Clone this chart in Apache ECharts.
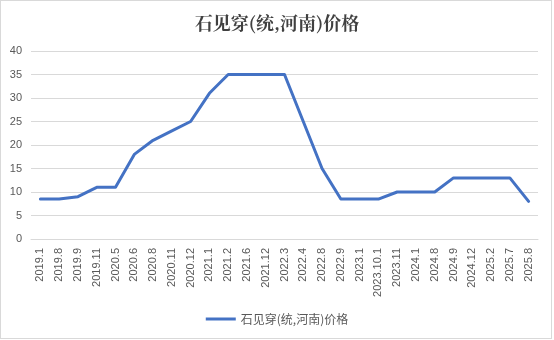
<!DOCTYPE html>
<html>
<head>
<meta charset="utf-8">
<script src="https://cdn.jsdelivr.net/npm/echarts@6/dist/echarts.min.js"></script>
<style>
  html, body { margin: 0; padding: 0; background: #fff; }
  #frame { position: absolute; left: 0; top: 0; width: 550px; height: 337px; border: 1px solid #d9d9d9; }
  #chart { position: absolute; left: 0; top: 0; width: 554px; height: 340px; }
</style>
</head>
<body>
<div id="frame"></div>
<div id="chart"></div>
<script>
// 石见穿(统,河南) price by month
const titleText = '石见穿(统,河南)价格';
const seriesName = '石见穿(统,河南)价格';
const categories = [
  '2019.1', '2019.8', '2019.9', '2019.11', '2020.5', '2020.6', '2020.8',
  '2020.11', '2020.12', '2021.1', '2021.2', '2021.6', '2021.12', '2022.3',
  '2022.4', '2022.8', '2022.9', '2023.1', '2023.10.1', '2023.11', '2024.1',
  '2024.8', '2024.9', '2024.12', '2025.2', '2025.7', '2025.8'
];
const prices = [
  8.5, 8.5, 9, 11, 11, 18, 21,
  23, 25, 31, 35, 35, 35, 35,
  25, 15, 8.5, 8.5, 8.5, 10, 10,
  10, 13, 13, 13, 13, 8
];
const yTicks = { min: 0, max: 40, interval: 5 };

const chart = echarts.init(document.getElementById('chart'), null, { renderer: 'canvas' });
chart.setOption({
  backgroundColor: 'transparent',
  animation: false,
  title: {
    text: titleText,
    left: 'center',
    top: 9,
    textStyle: {
      fontFamily: '"Noto Serif CJK SC", "Noto Sans CJK SC", serif',
      fontSize: 18,
      fontWeight: 'bold',
      color: '#404040'
    }
  },
  grid: { left: 31, right: 16, top: 51, bottom: 101, containLabel: false },
  legend: {
    bottom: 10,
    left: 'center',
    itemWidth: 30,
    itemHeight: 3,
    itemGap: 4,
    icon: 'rect',
    textStyle: { fontFamily: '"Noto Sans CJK SC", sans-serif', fontSize: 12, color: '#595959' },
    data: [seriesName]
  },
  xAxis: {
    type: 'category',
    data: categories,
    boundaryGap: true,
    axisLine: { show: true, lineStyle: { color: '#d9d9d9', width: 1 } },
    axisTick: { show: false },
    axisLabel: {
      rotate: 90,
      interval: 0,
      margin: 9,
      fontFamily: '"Liberation Sans", Arial, sans-serif',
      fontSize: 11,
      color: '#595959'
    }
  },
  yAxis: {
    type: 'value',
    min: yTicks.min,
    max: yTicks.max,
    interval: yTicks.interval,
    axisLine: { show: false },
    axisTick: { show: false },
    splitLine: { lineStyle: { color: '#d9d9d9', width: 1 } },
    axisLabel: {
      margin: 9,
      fontFamily: '"Liberation Sans", Arial, sans-serif',
      fontSize: 11,
      color: '#595959'
    }
  },
  series: [{
    name: seriesName,
    type: 'line',
    data: prices,
    symbol: 'none',
    lineStyle: { color: '#4472c4', width: 3, cap: 'round', join: 'round' },
    itemStyle: { color: '#4472c4' }
  }]
});
</script>
</body>
</html>
